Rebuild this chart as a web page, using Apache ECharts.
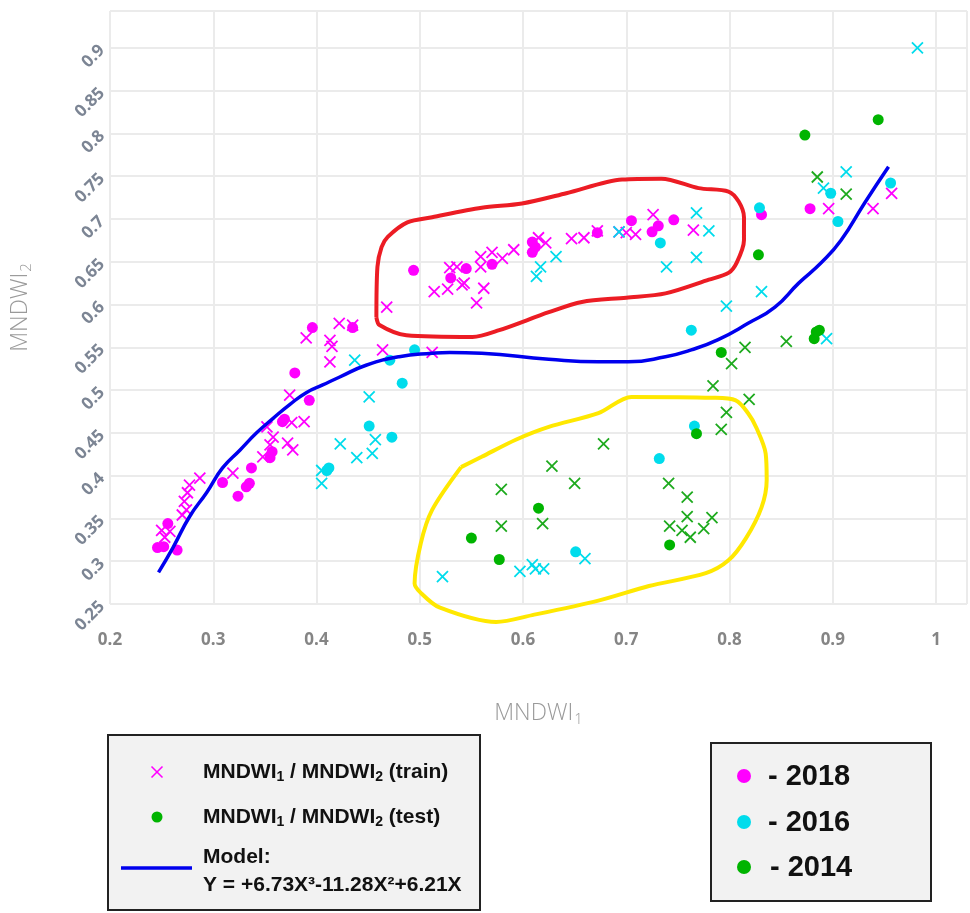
<!DOCTYPE html>
<html><head><meta charset="utf-8">
<script src="https://cdn.jsdelivr.net/npm/echarts@6/dist/echarts.min.js"></script>
<style>html,body{margin:0;padding:0;background:#fff}#c{width:970px;height:913px}</style>
</head><body><div id="c"></div>
<script>
// ---- data (MNDWI1, MNDWI2) ----
const train2018 = [[0.390,0.561],[0.422,0.578],[0.435,0.576],[0.413,0.558],[0.415,0.551],[0.413,0.533],[0.374,0.494],[0.388,0.463],[0.376,0.462],[0.372,0.438],[0.377,0.430],[0.352,0.457],[0.358,0.445],[0.355,0.436],[0.348,0.422],[0.319,0.403],[0.287,0.397],[0.277,0.389],[0.275,0.380],[0.272,0.370],[0.274,0.360],[0.270,0.354],[0.250,0.336],[0.258,0.335],[0.253,0.328],[0.464,0.547],[0.512,0.544],[0.468,0.597],[0.555,0.602],[0.514,0.615],[0.527,0.618],[0.541,0.623],[0.529,0.643],[0.536,0.644],[0.543,0.625],[0.562,0.619],[0.559,0.656],[0.559,0.644],[0.570,0.661],[0.580,0.654],[0.591,0.664],[0.615,0.678],[0.622,0.672],[0.647,0.677],[0.659,0.678],[0.672,0.686],[0.693,0.685],[0.700,0.684],[0.709,0.682],[0.726,0.705],[0.765,0.687],[0.896,0.712],[0.939,0.712],[0.957,0.730]];
const test2018 = [[0.396,0.573],[0.435,0.573],[0.379,0.520],[0.393,0.488],[0.367,0.463],[0.369,0.466],[0.357,0.428],[0.355,0.421],[0.337,0.409],[0.335,0.391],[0.332,0.387],[0.324,0.376],[0.309,0.392],[0.256,0.344],[0.246,0.316],[0.252,0.317],[0.265,0.313],[0.494,0.640],[0.530,0.631],[0.545,0.642],[0.570,0.647],[0.609,0.673],[0.609,0.661],[0.612,0.667],[0.672,0.684],[0.705,0.698],[0.725,0.685],[0.731,0.692],[0.746,0.699],[0.831,0.705],[0.878,0.712]];
const train2016 = [[0.437,0.535],[0.451,0.492],[0.423,0.437],[0.439,0.421],[0.457,0.442],[0.454,0.426],[0.405,0.406],[0.405,0.391],[0.522,0.282],[0.597,0.288],[0.609,0.296],[0.612,0.291],[0.620,0.291],[0.660,0.303],[0.797,0.598],[0.613,0.633],[0.617,0.644],[0.632,0.656],[0.739,0.644],[0.768,0.707],[0.768,0.655],[0.780,0.686],[0.693,0.685],[0.831,0.615],[0.982,0.900],[0.913,0.755],[0.891,0.736],[0.894,0.560]];
const test2016 = [[0.495,0.547],[0.471,0.535],[0.483,0.508],[0.451,0.458],[0.473,0.445],[0.410,0.406],[0.412,0.409],[0.733,0.672],[0.829,0.713],[0.898,0.730],[0.905,0.697],[0.956,0.742],[0.763,0.570],[0.766,0.458],[0.732,0.420],[0.651,0.311]];
const train2014 = [[0.885,0.749],[0.913,0.729],[0.815,0.550],[0.855,0.557],[0.802,0.531],[0.784,0.505],[0.819,0.489],[0.797,0.474],[0.792,0.454],[0.678,0.437],[0.628,0.411],[0.650,0.391],[0.579,0.384],[0.579,0.341],[0.619,0.344],[0.741,0.391],[0.759,0.375],[0.759,0.352],[0.783,0.351],[0.742,0.341],[0.754,0.336],[0.762,0.328],[0.775,0.338]];
const test2014 = [[0.873,0.798],[0.944,0.816],[0.828,0.658],[0.792,0.544],[0.884,0.568],[0.882,0.560],[0.887,0.570],[0.768,0.449],[0.615,0.362],[0.742,0.319],[0.577,0.302],[0.550,0.327]];
const modelCurve = [[0.247,0.287],[0.261,0.316],[0.277,0.352],[0.294,0.381],[0.309,0.409],[0.326,0.430],[0.342,0.450],[0.358,0.467],[0.374,0.483],[0.390,0.497],[0.406,0.506],[0.422,0.515],[0.448,0.529],[0.480,0.539],[0.512,0.543],[0.529,0.544],[0.560,0.543],[0.625,0.536],[0.673,0.533],[0.702,0.533],[0.738,0.539],[0.763,0.547],[0.789,0.559],[0.818,0.578],[0.844,0.597],[0.867,0.625],[0.889,0.649],[0.908,0.675],[0.931,0.719],[0.954,0.761]];
const redLoop = [[0.458,0.585],[0.461,0.576],[0.487,0.564],[0.551,0.562],[0.577,0.570],[0.625,0.591],[0.657,0.603],[0.700,0.608],[0.738,0.613],[0.780,0.629],[0.799,0.637],[0.807,0.649],[0.814,0.675],[0.814,0.702],[0.809,0.720],[0.799,0.732],[0.770,0.736],[0.734,0.747],[0.696,0.746],[0.642,0.730],[0.599,0.718],[0.560,0.713],[0.512,0.702],[0.488,0.696],[0.469,0.679],[0.463,0.667],[0.459,0.644],[0.458,0.585]];
const yellowLoop = [[0.540,0.410],[0.512,0.360],[0.501,0.321],[0.495,0.274],[0.501,0.263],[0.519,0.246],[0.574,0.229],[0.609,0.237],[0.673,0.254],[0.722,0.271],[0.777,0.286],[0.799,0.301],[0.816,0.327],[0.831,0.363],[0.836,0.395],[0.835,0.426],[0.826,0.456],[0.818,0.473],[0.806,0.488],[0.783,0.491],[0.705,0.492],[0.673,0.473],[0.625,0.457],[0.593,0.442],[0.560,0.422],[0.540,0.410]];
const legendLeft = ['MNDWI{s|1} / MNDWI{s|2} (train)', 'MNDWI{s|1} / MNDWI{s|2} (test)', 'Model:', 'Y = +6.73X³-11.28X²+6.21X'];
const legendYears = ['- 2018', '- 2016', '- 2014'];

const MAG = '#ff00ff', CYAN = '#00dcec', GREEN = '#00b400', GREENX = '#1eaa1e';
const CROSS = 'path://M0,0L10,10M0,10L10,0';

function crossSeries(data, color) {
  return { type: 'scatter', data, symbol: CROSS, symbolSize: 11, z: 3,
    itemStyle: { color: 'none', borderColor: color, borderWidth: 1.8, opacity: 1 } };
}
function dotSeries(data, color) {
  return { type: 'scatter', data, symbol: 'circle', symbolSize: 11, z: 3,
    itemStyle: { color: color, opacity: 1 } };
}
function tickFmt(step) {
  return v => Math.abs(v / step - Math.round(v / step)) < 1e-6 ? String(+v.toFixed(2)) : '';
}
const subRich = { s: { fontSize: 15, color: '#9a9a9a', fontFamily: 'Open Sans', fontWeight: 300, padding: [12, 0, 0, 1] } };

const chart = echarts.init(document.getElementById('c'), null, { renderer: 'canvas' });
const labelTxt = { fontSize: 21, fontWeight: 'bold', fontFamily: 'Liberation Sans, Arial', fill: '#111' };
const legRich = { s: { fontSize: 14, fontWeight: 'bold', fontFamily: 'Liberation Sans, Arial', fill: '#111', padding: [10, 0, 0, 0] } };
const yearTxt = { fontSize: 29, fontWeight: 'bold', fontFamily: 'Liberation Sans, Arial', fill: '#111', verticalAlign: 'middle' };

chart.setOption({
  animation: false,
  backgroundColor: '#fff',
  grid: { left: 110, right: 1, top: 11, bottom: 309, containLabel: false },
  xAxis: {
    type: 'value', min: 0.2, max: 1.03, interval: 0.1,
    name: 'MNDWI{s|1}', nameLocation: 'middle', nameGap: 96,
    nameTextStyle: { fontSize: 23, color: '#9a9a9a', fontFamily: 'Open Sans', fontWeight: 300, rich: subRich },
    axisLine: { show: false }, axisTick: { show: false },
    splitLine: { show: true, lineStyle: { color: '#ebebeb', width: 2 } },
    axisLabel: { margin: 28, fontSize: 17, fontWeight: 'bold', color: '#858585', fontFamily: 'Open Sans', formatter: tickFmt(0.1) }
  },
  yAxis: {
    type: 'value', min: 0.25, max: 0.943, interval: 0.05,
    name: 'MNDWI{s|2}', nameLocation: 'middle', nameGap: 76, nameRotate: 90,
    nameTextStyle: { fontSize: 23, color: '#9a9a9a', fontFamily: 'Open Sans', fontWeight: 300, rich: subRich },
    axisLine: { show: false }, axisTick: { show: false },
    splitLine: { show: true, lineStyle: { color: '#ebebeb', width: 2 } },
    axisLabel: { rotate: 45, margin: 8, fontSize: 17, fontWeight: 'bold', color: '#7c8594', fontFamily: 'Open Sans', formatter: tickFmt(0.05) }
  },
  series: [
    crossSeries(train2018, MAG),
    crossSeries(train2016, CYAN),
    crossSeries(train2014, GREENX),
    dotSeries(test2018, MAG),
    dotSeries(test2016, CYAN),
    dotSeries(test2014, GREEN),
    { type: 'line', data: modelCurve, smooth: true, symbol: 'none', z: 4, clip: false,
      lineStyle: { color: '#0000ee', width: 3.5 } },
    { type: 'line', data: redLoop, smooth: 0.3, symbol: 'none', z: 5, clip: false,
      lineStyle: { color: '#ec1c24', width: 4 } },
    { type: 'line', data: yellowLoop, smooth: 0.3, symbol: 'none', z: 5, clip: false,
      lineStyle: { color: '#ffe800', width: 4 } }
  ],
  graphic: [
    { type: 'rect', shape: { x: 108, y: 735, width: 372, height: 175 },
      style: { fill: '#f2f2f2', stroke: '#222', lineWidth: 2 } },
    { type: 'line', shape: { x1: 151.5, y1: 766.5, x2: 162.5, y2: 777.5 }, style: { stroke: MAG, lineWidth: 1.6 } },
    { type: 'line', shape: { x1: 151.5, y1: 777.5, x2: 162.5, y2: 766.5 }, style: { stroke: MAG, lineWidth: 1.6 } },
    { type: 'text', x: 203, y: 772, style: Object.assign({ text: legendLeft[0], rich: legRich, verticalAlign: 'middle' }, labelTxt) },
    { type: 'circle', shape: { cx: 157, cy: 817, r: 5.5 }, style: { fill: GREEN } },
    { type: 'text', x: 203, y: 817, style: Object.assign({ text: legendLeft[1], rich: legRich, verticalAlign: 'middle' }, labelTxt) },
    { type: 'line', shape: { x1: 121, y1: 868, x2: 192, y2: 868 }, style: { stroke: '#0000ee', lineWidth: 3.5 } },
    { type: 'text', x: 203, y: 857, style: Object.assign({ text: legendLeft[2], verticalAlign: 'middle' }, labelTxt) },
    { type: 'text', x: 203, y: 885, style: Object.assign({ text: legendLeft[3], verticalAlign: 'middle' }, labelTxt) },

    { type: 'rect', shape: { x: 711, y: 743, width: 220, height: 158 },
      style: { fill: '#f2f2f2', stroke: '#222', lineWidth: 2 } },
    { type: 'circle', shape: { cx: 744, cy: 776, r: 7 }, style: { fill: MAG } },
    { type: 'circle', shape: { cx: 744, cy: 822, r: 7 }, style: { fill: CYAN } },
    { type: 'circle', shape: { cx: 744, cy: 867, r: 7 }, style: { fill: GREEN } },
    { type: 'text', x: 768, y: 777, style: Object.assign({ text: legendYears[0] }, yearTxt) },
    { type: 'text', x: 768, y: 823, style: Object.assign({ text: legendYears[1] }, yearTxt) },
    { type: 'text', x: 770, y: 868, style: Object.assign({ text: legendYears[2] }, yearTxt) }
  ]
});
</script></body></html>
